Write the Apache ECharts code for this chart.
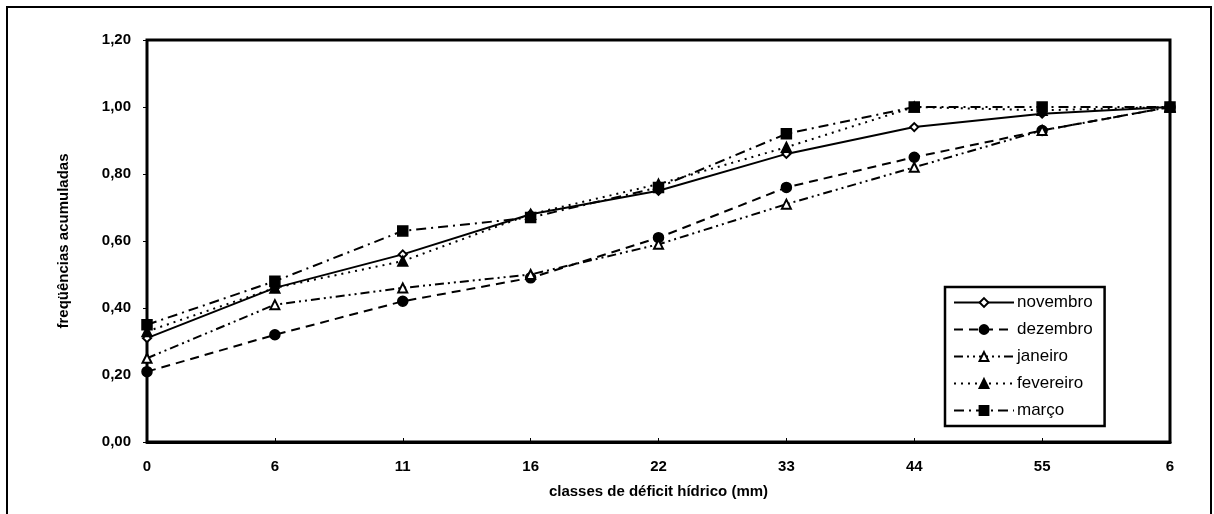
<!DOCTYPE html>
<html>
<head>
<meta charset="utf-8">
<script src="https://cdn.jsdelivr.net/npm/echarts@6/dist/echarts.min.js"></script>
<style>
  html, body { margin: 0; padding: 0; background: #fff; }
  #chart { width: 1214px; height: 514px; }
</style>
</head>
<body>
<div id="chart"></div>
<script>
// classes de déficit hídrico
const classes = ['0', '6', '11', '16', '22', '33', '44', '55', '6'];

const novembro  = [0.31, 0.46, 0.56, 0.68, 0.75, 0.86, 0.94, 0.98, 1.00];
const dezembro  = [0.21, 0.32, 0.42, 0.49, 0.61, 0.76, 0.85, 0.93, 1.00];
const janeiro   = [0.25, 0.41, 0.46, 0.50, 0.59, 0.71, 0.82, 0.93, 1.00];
const fevereiro = [0.33, 0.46, 0.54, 0.68, 0.77, 0.88, 1.00, 0.99, 1.00];
const marco     = [0.35, 0.48, 0.63, 0.67, 0.76, 0.92, 1.00, 1.00, 1.00];

const font = 'Liberation Sans, Arial, sans-serif';

const chart = echarts.init(document.getElementById('chart'));

function line(name, data, symbol, dash, size) {
    return {
        name: name,
        type: 'line',
        data: data,
        symbol: symbol,
        symbolSize: size,
        showSymbol: true,
        itemStyle: { color: '#000', borderColor: '#000', borderWidth: 1.5 },
        lineStyle: { color: '#000', width: 2, type: dash },
        emphasis: { disabled: true },
        z: 3
    };
}

chart.setOption({
    animation: false,
    backgroundColor: '#fff',
    graphic: [{
        type: 'rect',
        shape: { x: 7, y: 7, width: 1204, height: 520 },
        style: { fill: 'none', stroke: '#000', lineWidth: 2 }
    }],
    grid: {
        left: 147, right: 44, top: 40, bottom: 72,
        show: true, borderColor: '#000', borderWidth: 3
    },
    legend: {
        orient: 'vertical',
        left: 945, top: 287,
        padding: [7, 12, 7, 8],
        itemGap: 10,
        itemWidth: 60,
        itemHeight: 11,
        borderColor: '#000',
        borderWidth: 2.5,
        backgroundColor: '#fff',
        textStyle: { fontFamily: font, fontSize: 17, color: '#000', padding: [0, 0, 0, -2] },
        data: ['novembro', 'dezembro', 'janeiro', 'fevereiro', 'março']
    },
    xAxis: {
        type: 'category',
        data: classes,
        boundaryGap: false,
        name: 'classes de déficit hídrico (mm)',
        nameLocation: 'middle',
        nameGap: 42,
        nameTextStyle: { fontFamily: font, fontSize: 15, fontWeight: 'bold', color: '#000' },
        axisLine: { lineStyle: { color: '#000', width: 3 } },
        axisTick: { show: true, inside: true, length: 4, lineStyle: { color: '#000' } },
        axisLabel: { fontFamily: font, fontSize: 15, fontWeight: 'bold', color: '#000', margin: 17 },
        splitLine: { show: false }
    },
    yAxis: {
        type: 'value',
        min: 0, max: 1.2, interval: 0.2,
        name: 'freqüências acumuladas',
        nameLocation: 'middle',
        nameGap: 76,
        nameRotate: 90,
        nameTextStyle: { fontFamily: font, fontSize: 15, fontWeight: 'bold', color: '#000' },
        axisLine: { show: true, lineStyle: { color: '#000', width: 2 } },
        axisTick: { show: true, length: 4, lineStyle: { color: '#000' } },
        axisLabel: {
            fontFamily: font, fontSize: 15, fontWeight: 'bold', color: '#000', margin: 16,
            formatter: v => v.toFixed(2).replace('.', ',')
        },
        splitLine: { show: false }
    },
    series: [
        line('novembro', novembro, 'emptyDiamond', 'solid', 8),
        line('dezembro', dezembro, 'circle', [9, 6], 10),
        line('janeiro', janeiro, 'emptyTriangle', [9, 4, 2, 4, 2, 4], 9),
        line('fevereiro', fevereiro, 'triangle', [2, 5], 10),
        line('março', marco, 'rect', [10, 5, 2, 5], 10)
    ]
});
</script>
</body>
</html>
